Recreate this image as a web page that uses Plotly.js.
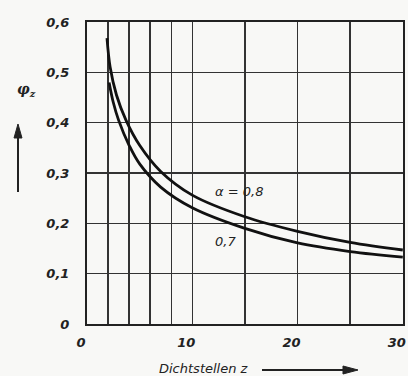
<!DOCTYPE html>
<html>
<head>
<meta charset="utf-8">
<script src="https://cdn.plot.ly/plotly-3.0.1.min.js"></script>
<style>html,body{margin:0;padding:0;background:#f8f8f6;}#chart{width:408px;height:376px;}</style>
</head>
<body>
<div id="chart"></div>
<script>
// Dichtstellen z (x) and phi_z (y)
const z08 = [1.9, 2.2, 2.8, 3.7, 5, 7, 10, 15, 20, 25, 30];
const phi08 = [0.568, 0.51, 0.455, 0.405, 0.355, 0.303, 0.256, 0.213, 0.184, 0.162, 0.147];
const z07 = [2.1, 2.5, 3, 4, 5, 7, 10, 15, 20, 25, 30];
const phi07 = [0.48, 0.44, 0.405, 0.355, 0.318, 0.272, 0.231, 0.190, 0.161, 0.144, 0.133];
const xTicks = [0, 10, 20, 30];
const xTickText = ['0', '10', '20', '30'];
const xMinorGrid = [2, 4, 6, 8, 15, 25];
const yTicks = [0, 0.1, 0.2, 0.3, 0.4, 0.5, 0.6];
const yTickText = ['0', '0,1', '0,2', '0,3', '0,4', '0,5', '0,6'];

const lineStyle = {color: '#111', width: 2.8, shape: 'spline', smoothing: 1};
const traces = [
  {x: z08, y: phi08, mode: 'lines', line: lineStyle, name: 'α = 0,8', hoverinfo: 'skip'},
  {x: z07, y: phi07, mode: 'lines', line: lineStyle, name: '0,7', hoverinfo: 'skip'}
];
const tickFont = {family: 'DejaVu Sans', size: 13, color: '#222', weight: 'bold', style: 'italic'};
const labFont = {family: 'DejaVu Sans', size: 13, color: '#222', style: 'italic'};
const ink = '#222';
const layout = {
  width: 408, height: 376,
  margin: {l: 87, r: 5, t: 22, b: 52},
  paper_bgcolor: '#f8f8f6', plot_bgcolor: '#f8f8f6',
  showlegend: false,
  xaxis: {range: [0, 30.02], tickmode: 'array', tickvals: xTicks, ticktext: xTickText,
    showgrid: true, gridcolor: '#333', gridwidth: 1.4, zeroline: false,
    minor: {tickmode: 'array', tickvals: xMinorGrid, showgrid: true, gridcolor: '#333', gridwidth: 1.4, ticks: ''},
    showline: true, linecolor: ink, linewidth: 2, mirror: true,
    ticks: '', tickfont: tickFont, ticklabelstandoff: 5, ticklabelshift: -6},
  yaxis: {range: [0, 0.6], tickmode: 'array', tickvals: yTicks, ticktext: yTickText,
    showgrid: true, gridcolor: '#333', gridwidth: 1.4, zeroline: false,
    showline: true, linecolor: ink, linewidth: 2, mirror: true,
    ticks: '', tickfont: tickFont, ticklabelstandoff: 13},
  annotations: [
    {x: 14.4, y: 0.264, xref: 'x', yref: 'y', text: 'α = 0,8', showarrow: false, font: labFont},
    {x: 13.2, y: 0.163, xref: 'x', yref: 'y', text: '0,7', showarrow: false, font: labFont},
    {x: -0.19, y: 0.775, xref: 'paper', yref: 'paper', yanchor: 'middle', xanchor: 'center',
     text: 'φ<sub>z</sub>', showarrow: false,
     font: {family: 'DejaVu Serif', size: 14, color: ink, style: 'italic', weight: 'bold'}},
    {x: 0.37, y: -0.146, xref: 'paper', yref: 'paper', yanchor: 'middle', xanchor: 'center',
     text: 'Dichtstellen z', showarrow: false, font: labFont}
  ],
  shapes: [
    {type: 'line', xref: 'paper', yref: 'paper', x0: -0.2184, x1: -0.2184, y0: 0.437, y1: 0.63,
     line: {color: ink, width: 2}},
    {type: 'path', xref: 'paper', yref: 'paper', path: 'M -0.2184 0.6623 L -0.231 0.6159 L -0.2057 0.6159 Z',
     fillcolor: ink, line: {color: ink, width: 1}},
    {type: 'line', xref: 'paper', yref: 'paper', x0: 0.5538, x1: 0.82, y0: -0.1523, y1: -0.1523,
     line: {color: ink, width: 2}},
    {type: 'path', xref: 'paper', yref: 'paper', path: 'M 0.8576 -0.1523 L 0.8101 -0.1391 L 0.8101 -0.1656 Z',
     fillcolor: ink, line: {color: ink, width: 1}}
  ]
};
Plotly.newPlot('chart', traces, layout, {displayModeBar: false, staticPlot: true});
</script>
</body>
</html>
